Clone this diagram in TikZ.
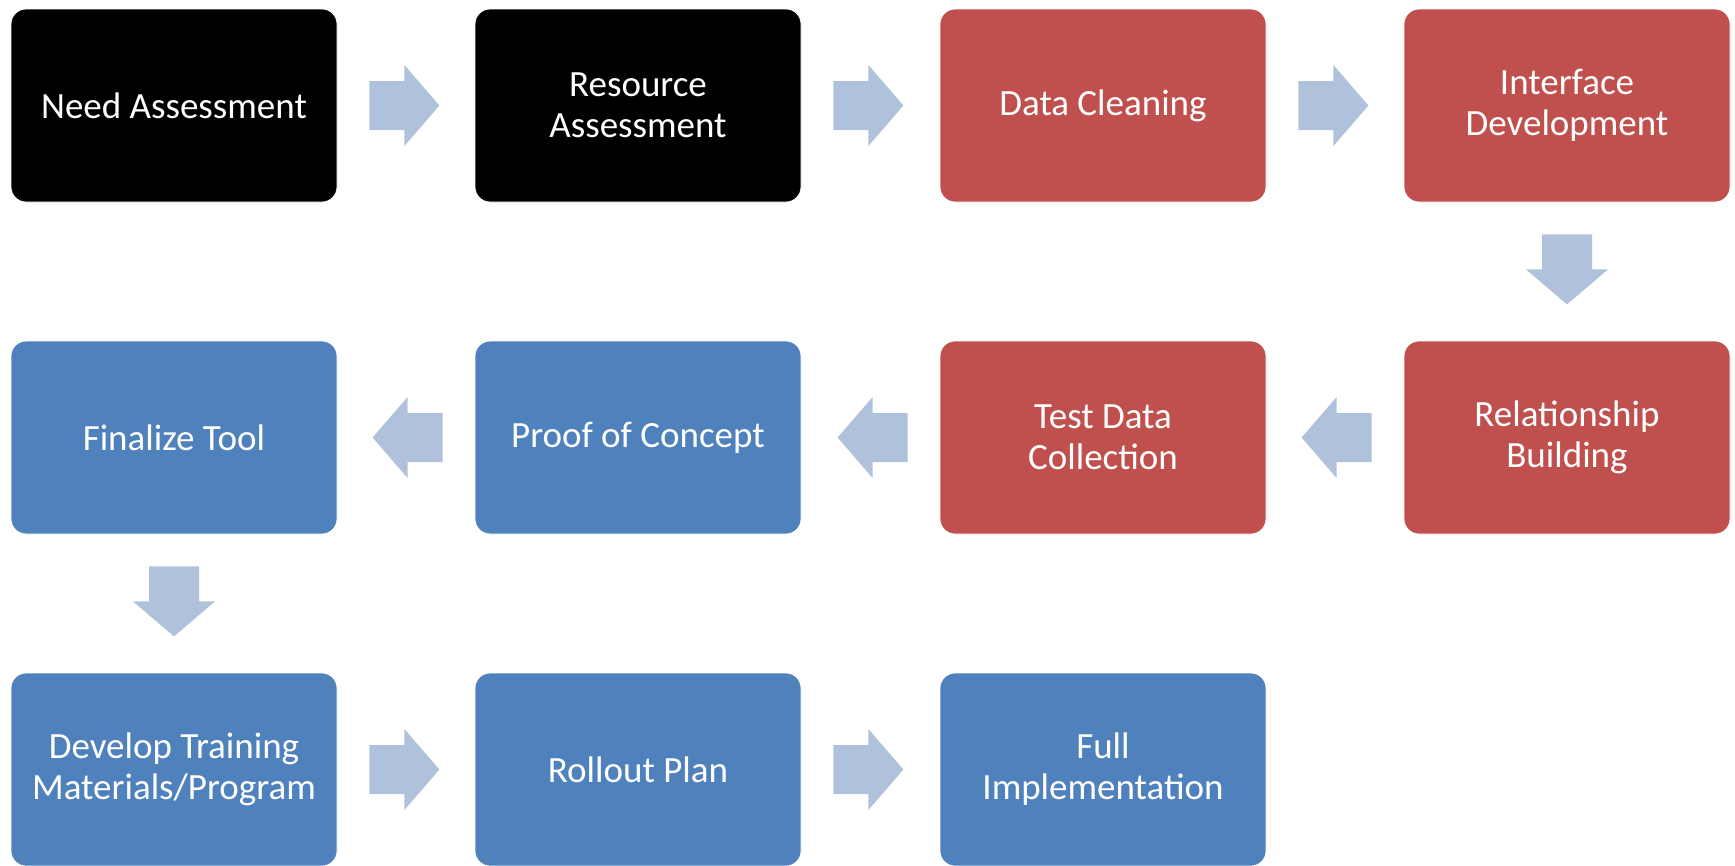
\documentclass[tikz,border=0pt]{standalone}
\usepackage{fontspec}
\setmainfont{Carlito}
\usetikzlibrary{calc}
\definecolor{boxred}{HTML}{C0504D}
\definecolor{boxblue}{HTML}{4F81BD}
\definecolor{arrowblue}{HTML}{B0C1DC}
\tikzset{
  stage/.style={rounded corners=15pt, minimum width=326pt, minimum height=193pt, inner sep=0pt,
    text=white, align=center, font=\fontsize{37}{41}\selectfont, draw=white, line width=0.8pt},
  blackstage/.style={stage, fill=black},
  redstage/.style={stage, fill=boxred},
  bluestage/.style={stage, fill=boxblue},
  flowarrow/.style={fill=arrowblue},
}
\newcommand{\flowright}[2]{\fill[flowarrow] ($(#1.east)+(32,-24.5)$) -- ++(35,0) -- ++(0,-16) -- ++(35,40.5) -- ++(-35,40.5) -- ++(0,-16) -- ++(-35,0) -- cycle;}
\newcommand{\flowleft}[2]{\fill[flowarrow] ($(#1.west)+(-32,-24.5)$) -- ++(-35,0) -- ++(0,-16) -- ++(-35,40.5) -- ++(35,40.5) -- ++(0,-16) -- ++(35,0) -- cycle;}
\newcommand{\flowdown}[2]{\fill[flowarrow] ($(#1.south)+(-25,32)$) -- ++(0,35) -- ++(-16,0) -- ++(41,35) -- ++(41,-35) -- ++(-16,0) -- ++(0,-35) -- cycle;}
\begin{document}
\begin{tikzpicture}[x=1pt,y=-1pt]
\useasboundingbox (0,0) rectangle (1735,865);
% row 1
\node[blackstage] (need) at (174,105.5) {Need Assessment};
\node[blackstage] (res) at (638,105.5) {Resource\\Assessment};
\node[redstage] (clean) at (1103,105.5) {Data Cleaning};
\node[redstage] (iface) at (1567,105.5) {Interface\\Development};
% row 2
\node[redstage] (rel) at (1567,437.5) {Relationship\\Building};
\node[redstage] (test) at (1103,437.5) {Test Data\\Collection};
\node[bluestage] (proof) at (638,437.5) {Proof of Concept};
\node[bluestage] (final) at (174,437.5) {Finalize Tool};
% row 3
\node[bluestage] (train) at (174,769.5) {Develop Training\\Materials/Program};
\node[bluestage] (roll) at (638,769.5) {Rollout Plan};
\node[bluestage] (full) at (1103,769.5) {Full\\Implementation};
% arrows
\flowright{need}{res}
\flowright{res}{clean}
\flowright{clean}{iface}
\flowdown{iface}{rel}
\flowleft{rel}{test}
\flowleft{test}{proof}
\flowleft{proof}{final}
\flowdown{final}{train}
\flowright{train}{roll}
\flowright{roll}{full}
\end{tikzpicture}
\end{document}
